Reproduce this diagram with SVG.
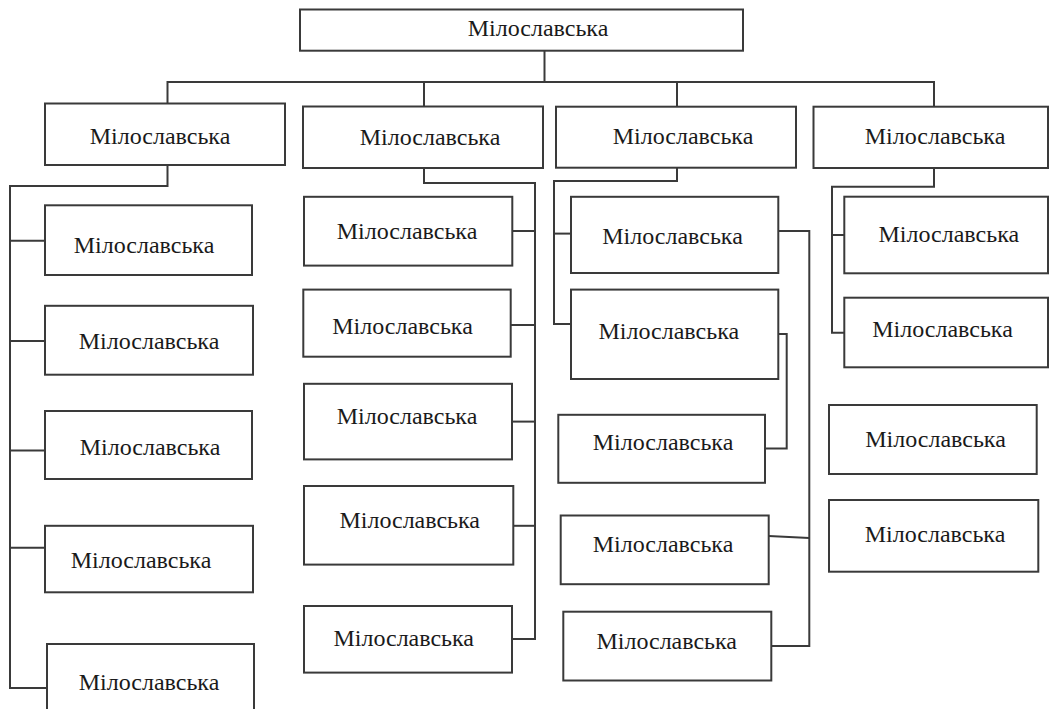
<svg xmlns="http://www.w3.org/2000/svg" width="1049" height="709" viewBox="0 0 1049 709">
  <style>
    .box { fill: #ffffff; stroke: #3a3a3a; stroke-width: 2; }
    .wire { fill: none; stroke: #3a3a3a; stroke-width: 2; stroke-linejoin: miter; }
  </style>
  <rect width="1049" height="709" fill="#ffffff"/>

  <!-- connectors -->
  <g id="connectors" class="wire">
    <path d="M544.5 50.7 V82"/>
    <path d="M167.5 103.5 V82 H934 V106.7"/>
    <path d="M424 82 V106.5"/>
    <path d="M677 82 V106.7"/>

    <!-- column A: spine on the far left -->
    <path d="M167.5 165 V186 H10 V688 H47"/>
    <path d="M10 240.7 H45"/>
    <path d="M10 341 H45"/>
    <path d="M10 450.6 H45"/>
    <path d="M10 547.7 H45"/>

    <!-- column B: spine on the right of its children -->
    <path d="M424 168 V183 H535 V639 H512"/>
    <path d="M535 231 H512.3"/>
    <path d="M535 325 H510.7"/>
    <path d="M535 421.6 H512"/>
    <path d="M535 525.8 H513.3"/>

    <!-- column C -->
    <path d="M677 167.7 V181 H554 V324 H571"/>
    <path d="M554 233.6 H571"/>
    <path d="M778.3 231 H809.3 V646 H771.3"/>
    <path d="M768.7 536 L809.3 538"/>
    <path d="M778.3 334 H786.7 V448.4 H765"/>

    <!-- column D -->
    <path d="M934 168 V186.7 H832 V332.7 H844.3"/>
    <path d="M832 235 H844.3"/>
  </g>

  <g id="nodes" font-family="Liberation Serif, Times New Roman, serif" font-size="24" fill="#1a1a1a" text-anchor="middle">
  <!-- root -->
  <g id="root">
    <rect class="box" x="300" y="9.5" width="443" height="41.2"/>
    <text x="538" y="36">Мілославська</text>
  </g>

  <!-- second level -->
  <g id="nodeA">
    <rect class="box" x="45" y="103.5" width="240" height="61.5"/>
    <text x="160" y="144">Мілославська</text>
  </g>
  <g id="nodeB">
    <rect class="box" x="303" y="106.5" width="240" height="61.5"/>
    <text x="430" y="145">Мілославська</text>
  </g>
  <g id="nodeC">
    <rect class="box" x="556" y="106.7" width="240" height="61"/>
    <text x="683" y="144">Мілославська</text>
  </g>
  <g id="nodeD">
    <rect class="box" x="813.5" y="106.7" width="234.5" height="61.3"/>
    <text x="935" y="144">Мілославська</text>
  </g>

  <!-- column A children -->
  <g id="nodeA1">
    <rect class="box" x="45" y="205.3" width="207" height="69.7"/>
    <text x="144" y="253">Мілославська</text>
  </g>
  <g id="nodeA2">
    <rect class="box" x="45" y="305.8" width="208" height="68.9"/>
    <text x="149" y="349">Мілославська</text>
  </g>
  <g id="nodeA3">
    <rect class="box" x="45" y="411" width="207" height="68"/>
    <text x="150" y="455">Мілославська</text>
  </g>
  <g id="nodeA4">
    <rect class="box" x="45" y="525.8" width="208" height="66.5"/>
    <text x="141" y="568">Мілославська</text>
  </g>
  <g id="nodeA5">
    <rect class="box" x="47" y="644" width="207" height="80"/>
    <text x="149" y="690">Мілославська</text>
  </g>

  <!-- column B children -->
  <g id="nodeB1">
    <rect class="box" x="304" y="196.8" width="208.3" height="68.8"/>
    <text x="407" y="239">Мілославська</text>
  </g>
  <g id="nodeB2">
    <rect class="box" x="303.3" y="289.6" width="207.4" height="67.1"/>
    <text x="402.5" y="334">Мілославська</text>
  </g>
  <g id="nodeB3">
    <rect class="box" x="304" y="383.8" width="208" height="75.6"/>
    <text x="407" y="424">Мілославська</text>
  </g>
  <g id="nodeB4">
    <rect class="box" x="304" y="486" width="209.3" height="78.6"/>
    <text x="409.7" y="528">Мілославська</text>
  </g>
  <g id="nodeB5">
    <rect class="box" x="304" y="606" width="208" height="66.6"/>
    <text x="403.7" y="646">Мілославська</text>
  </g>

  <!-- column C children -->
  <g id="nodeC1">
    <rect class="box" x="571" y="196.8" width="207.3" height="76.2"/>
    <text x="672.5" y="244">Мілославська</text>
  </g>
  <g id="nodeC2">
    <rect class="box" x="571" y="289.6" width="207.3" height="89.4"/>
    <text x="668.8" y="339">Мілославська</text>
  </g>
  <g id="nodeC3">
    <rect class="box" x="558.3" y="414.8" width="206.7" height="68"/>
    <text x="663" y="450">Мілославська</text>
  </g>
  <g id="nodeC4">
    <rect class="box" x="560.7" y="515.5" width="208" height="68.7"/>
    <text x="663" y="552">Мілославська</text>
  </g>
  <g id="nodeC5">
    <rect class="box" x="563.3" y="611.7" width="208" height="68.8"/>
    <text x="666.7" y="649">Мілославська</text>
  </g>

  <!-- column D children -->
  <g id="nodeD1">
    <rect class="box" x="844.3" y="196.7" width="203.7" height="76.6"/>
    <text x="948.8" y="242">Мілославська</text>
  </g>
  <g id="nodeD2">
    <rect class="box" x="844.3" y="297.7" width="203.7" height="69.6"/>
    <text x="942.5" y="337">Мілославська</text>
  </g>
  <g id="nodeD3">
    <rect class="box" x="829" y="405" width="207.7" height="69"/>
    <text x="935.5" y="447">Мілославська</text>
  </g>
  <g id="nodeD4">
    <rect class="box" x="829" y="500" width="209.3" height="71.7"/>
    <text x="935" y="542">Мілославська</text>
  </g>
  </g>
</svg>
